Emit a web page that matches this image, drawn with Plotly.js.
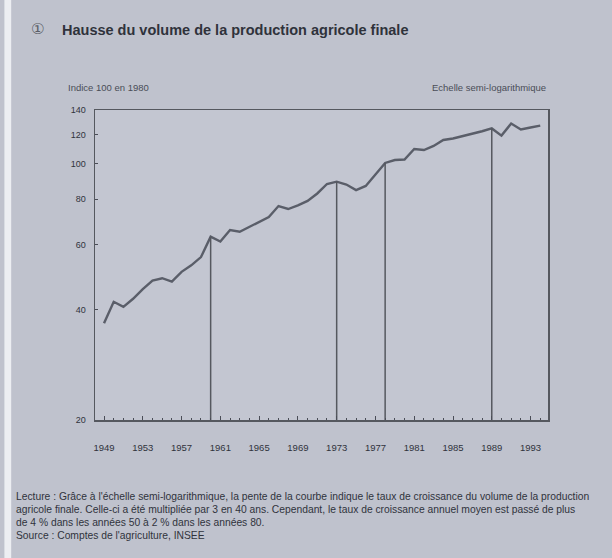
<!DOCTYPE html>
<html>
<head>
<meta charset="utf-8">
<script src="https://cdn.plot.ly/plotly-3.0.1.min.js"></script>
<style>
html,body{margin:0;padding:0;background:#bfc2cd;}
#chart{width:612px;height:558px;}
</style>
</head>
<body>
<div id="chart"></div>
<script>
// Years of the series
var years = [1949,1950,1951,1952,1953,1954,1955,1956,1957,1958,1959,1960,1961,1962,1963,1964,1965,1966,1967,1968,1969,1970,1971,1972,1973,1974,1975,1976,1977,1978,1979,1980,1981,1982,1983,1984,1985,1986,1987,1988,1989,1990,1991,1992,1993,1994];
// Volume index of final agricultural production (100 in 1980)
var volume = [36.7,42.0,40.7,42.8,45.5,48.0,48.7,47.7,50.7,52.8,55.6,63.2,61.3,65.9,65.2,67.2,69.3,71.5,76.6,75.2,76.9,79.1,82.9,88.0,89.3,87.7,84.7,86.9,93.4,100.4,102.3,102.6,109.6,108.9,111.7,116.0,117.1,118.7,120.4,122.5,124.7,119.2,128.6,123.9,125.4,126.9];
// Years marked with a vertical drop line
var markYears = [1960,1973,1978,1989];
// Tick labels
var xTickYears = [1949,1953,1957,1961,1965,1969,1973,1977,1981,1985,1989,1993];
var yTickVals = [20,40,60,80,100,120,140];

var ink = '#4a4d57';
var traces = [{
  x: years, y: volume, type: 'scatter', mode: 'lines',
  line: {color: '#5a5e69', width: 2.4}, showlegend: false, hoverinfo: 'skip'
}];
markYears.forEach(function (yr) {
  var v = volume[years.indexOf(yr)];
  traces.push({
    x: [yr, yr], y: [20, v], type: 'scatter', mode: 'lines',
    line: {color: '#55585f', width: 1.5}, showlegend: false, hoverinfo: 'skip'
  });
});

var font = 'Liberation Sans, Arial, sans-serif';
var notes = [
  "Lecture : Grâce à l'échelle semi-logarithmique, la pente de la courbe indique le taux de croissance du volume de la production",
  "agricole finale. Celle-ci a été multipliée par 3 en 40 ans. Cependant, le taux de croissance annuel moyen est passé de plus",
  "de 4 % dans les années 50 à 2 % dans les années 80.",
  "Source : Comptes de l'agriculture, INSEE"
];
var annotations = [
  {text: '①', xref: 'paper', yref: 'paper', x: -0.146, y: 1.0, yshift: 81, xanchor: 'left', yanchor: 'middle', showarrow: false,
   font: {family: 'DejaVu Sans', size: 15, color: '#5a5d66'}},
  {text: '<b>Hausse du volume de la production agricole finale</b>', xref: 'paper', yref: 'paper', x: -0.077, y: 1.0, yshift: 80,
   xanchor: 'left', yanchor: 'middle', showarrow: false, font: {family: font, size: 14.5, color: '#2f323b'}},
  {text: 'Indice 100 en 1980', xref: 'paper', yref: 'paper', x: -0.064, y: 1.0, yshift: 23, xanchor: 'left', yanchor: 'middle',
   showarrow: false, font: {family: font, size: 9.5, color: ink}},
  {text: 'Echelle semi-logarithmique', xref: 'paper', yref: 'paper', x: 1.0, y: 1.0, yshift: 23, xanchor: 'right', yanchor: 'middle',
   showarrow: false, font: {family: font, size: 9.5, color: ink}}
];
notes.forEach(function (t, i) {
  annotations.push({text: t, xref: 'paper', yref: 'paper', x: -0.178, y: 0, yshift: -76 - i * 13.2, xanchor: 'left', yanchor: 'middle',
    showarrow: false, font: {family: font, size: 10.3, color: '#30333c'}});
});

var layout = {
  width: 612, height: 558,
  margin: {l: 95, r: 64, t: 110, b: 138},
  paper_bgcolor: '#bfc2cd', plot_bgcolor: '#c3c6d1',
  showlegend: false,
  font: {family: font, color: ink, size: 9},
  xaxis: {
    range: [1948.07, 1994.8], tickvals: xTickYears, ticktext: xTickYears.map(String),
    ticks: 'inside', ticklen: 4, tickcolor: ink, showgrid: false, zeroline: false,
    showline: true, mirror: true, linecolor: '#55585f', linewidth: 1.5,
    minor: {dtick: 1, tick0: 1949, ticks: 'inside', ticklen: 2, tickcolor: ink, showgrid: false},
    ticklabelstandoff: 18, tickfont: {family: font, size: 9.5, color: '#30333c'}
  },
  yaxis: {
    type: 'log', range: [Math.log10(20), Math.log10(140)], tickvals: yTickVals, ticktext: yTickVals.map(String),
    ticks: 'inside', ticklen: 3, tickcolor: ink, showgrid: false, zeroline: false,
    showline: true, mirror: true, linecolor: '#55585f', linewidth: 1.5,
    ticklabelstandoff: 6, tickfont: {family: font, size: 9, color: '#30333c'}
  },
  shapes: [
    {type: 'rect', xref: 'paper', yref: 'paper', x0: -0.2, x1: -0.185, y0: -0.5, y1: 1.5, fillcolor: '#eceef2', line: {width: 0}, layer: 'below'}
  ],
  annotations: annotations
};
Plotly.newPlot('chart', traces, layout, {displayModeBar: false, staticPlot: true});
</script>
</body>
</html>
